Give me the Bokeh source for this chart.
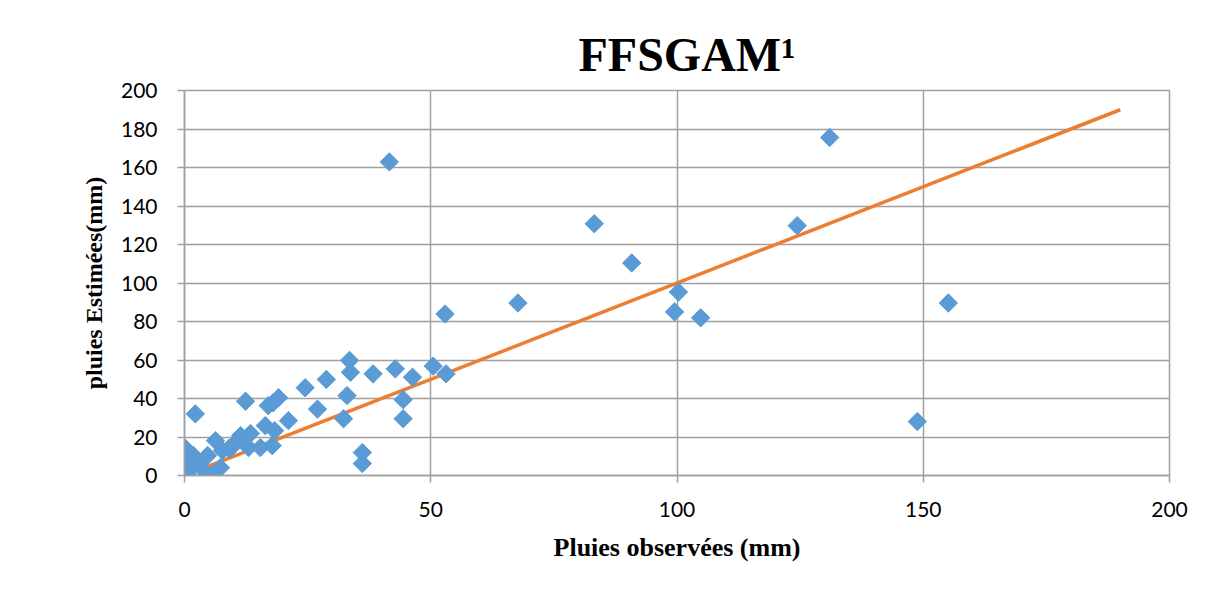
import math
from bokeh.plotting import figure
from bokeh.models import Range1d, FixedTicker
from bokeh.embed import file_html
from bokeh.resources import INLINE

# Observed vs estimated rainfall (mm)
obs = [0.2, 0.0, 1.2, 0.8, 3.9, 5.3, 2.8, 1.8, 2.2, 4.7, 6.3, 7.7, 9.3, 10.8,
       11.4, 13.4, 13.0, 15.4, 17.8, 12.4, 16.4, 18.3, 17.0, 18.0, 19.1, 21.1,
       24.5, 27.0, 28.8, 32.3, 33.0, 33.5, 33.7, 36.1, 36.1, 38.3, 41.6, 42.8,
       44.4, 44.4, 46.3, 50.5, 53.1, 52.9, 67.7, 83.2, 90.8, 100.3, 99.5, 104.8,
       124.4, 131.0, 148.8, 155.1, 7.3, 9.0]
est = [14.0, 6.7, 4.1, 0.0, 2.6, 0.0, 6.7, 10.4, 32.0, 10.4, 18.1, 13.0, 14.0, 18.1,
       20.7, 21.8, 14.5, 14.5, 15.5, 38.6, 25.9, 23.3, 36.3, 37.8, 40.4, 28.5,
       45.6, 34.5, 49.9, 29.5, 41.5, 59.8, 53.6, 11.9, 6.2, 52.8, 162.9, 55.4,
       39.4, 29.5, 51.1, 56.8, 52.8, 83.9, 89.6, 130.8, 110.4, 95.3, 85.0, 81.9,
       129.8, 175.6, 28.0, 89.6, 4.0, 14.0]

# 1:1 reference line
line_x = [0, 190]
line_y = [0, 190]

x_ticks = [0, 50, 100, 150, 200]
y_ticks = [0, 20, 40, 60, 80, 100, 120, 140, 160, 180, 200]

title_text = "FFSGAM\u00b9"
x_label = "Pluies observées (mm)"
y_label = "pluies Estimées(mm)"

p = figure(width=1209, height=589, output_backend="svg", toolbar_location=None,
           frame_width=985, frame_height=385,
           min_border_left=184, min_border_right=40, min_border_top=90, min_border_bottom=114,
           x_range=Range1d(0, 200), y_range=Range1d(0, 200),
           title=title_text)

p.title.align = "left"
p.title.text_font = "Liberation Serif"
p.title.text_font_style = "bold"
p.title.text_font_size = "48px"
p.title.text_color = "black"
p.title.offset = 394
p.title.standoff = 20

grid_col = "#A0A0A0"
p.outline_line_color = grid_col
p.outline_line_width = 1.5
p.background_fill_color = "white"
p.border_fill_color = "white"

for g in (p.xgrid, p.ygrid):
    g.grid_line_color = grid_col
    g.grid_line_width = 1.5
p.xgrid.ticker = FixedTicker(ticks=x_ticks)
p.ygrid.ticker = FixedTicker(ticks=y_ticks)

p.xaxis.ticker = FixedTicker(ticks=x_ticks)
p.yaxis.ticker = FixedTicker(ticks=y_ticks)
for ax in (p.xaxis, p.yaxis):
    ax.axis_line_color = grid_col
    ax.axis_line_width = 1.5
    ax.major_tick_line_color = grid_col
    ax.major_tick_line_width = 1.5
    ax.major_tick_in = 0
    ax.major_tick_out = 7
    ax.minor_tick_line_color = None
    ax.major_label_text_font = "Lato"
    ax.major_label_text_font_size = "21px"
    ax.major_label_text_color = "black"
    ax.axis_label_text_font = "Liberation Serif"
    ax.axis_label_text_font_style = "bold"
    ax.axis_label_text_color = "black"

p.xaxis.axis_label_text_font_size = "26px"
p.yaxis.axis_label_text_font_size = "24px"
p.xaxis.axis_label = x_label
p.yaxis.axis_label = y_label
p.xaxis.major_label_standoff = 19
p.yaxis.major_label_standoff = 20
p.xaxis.axis_label_standoff = 13
p.yaxis.axis_label_standoff = 11

p.line(line_x, line_y, line_color="#ED7D31", line_width=3.5)
p.scatter(obs, est, marker="square", angle=math.pi / 4, size=13,
          fill_color="#5B9BD5", line_color="#5B9BD5")

open("out.html", "w").write(file_html(p, INLINE))
